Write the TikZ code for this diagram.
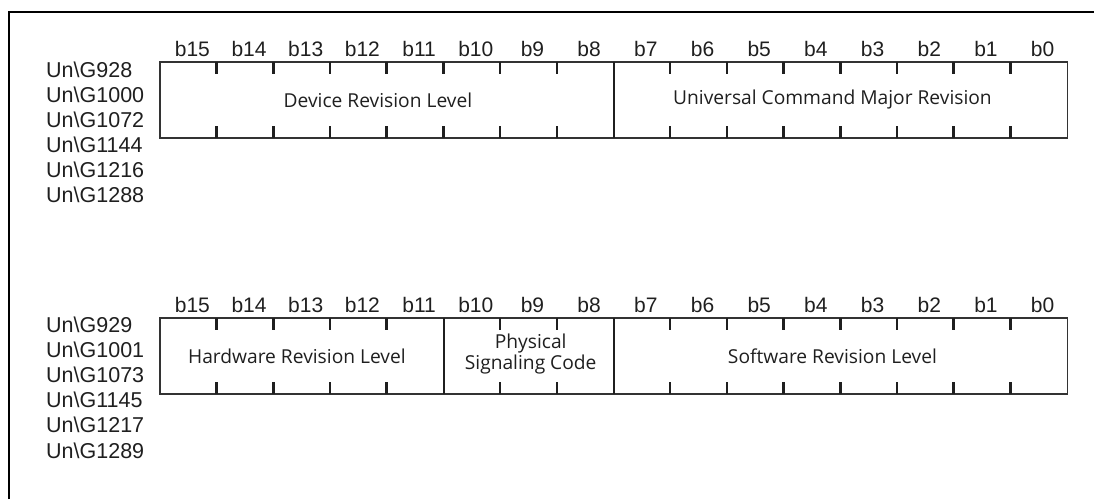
\documentclass[tikz,border=0pt]{standalone}
\usepackage{fontspec}
\setmainfont{Liberation Sans}
\newfontfamily\fieldfont{Open Sans}
\begin{document}
\begin{tikzpicture}[x=1pt,y=-1pt,
  ink/.style={color=black!88},
  bitlabel/.style={ink,font=\fontsize{21}{21}\selectfont,inner sep=0pt,anchor=base},
  addrlabel/.style={ink,font=\fontsize{21.5}{25}\selectfont,inner sep=0pt,anchor=base west},
  field/.style={inner sep=0pt,anchor=north west,minimum height=75.5pt},
  fieldtext/.style={ink,font=\fieldfont\fontsize{19.2}{20.5}\selectfont,inner sep=0pt,align=center},
  regbox/.style={draw=black!80,line width=1.7pt},
  divider/.style={draw=black!88,line width=2.6pt},
  tick/.style={draw=black!88,line width=2.6pt},
  frame/.style={draw=black,line width=2.5pt}]
\useasboundingbox (0,0) rectangle (1094,499);
\coordinate (fa) at (9,499);
\coordinate (fb) at (9,12);
\coordinate (fc) at (1094,12);
\draw[frame] (fa) -- (fb) -- (fc);
\def\bw{56.6875}
% ---------- register 1 ----------
\node[field,minimum width=8*\bw] (dev) at (160,62) {};
\node[field,minimum width=8*\bw] (ucm) at (160+8*\bw,62) {};
\node[fieldtext,xshift=-9pt] (devT) at (dev.center) {Device Revision Level};
\node[fieldtext,xshift=-8pt] (ucmT) at (ucm.center) {Universal Command Major Revision};
\draw[regbox] (dev.north west) rectangle (ucm.south east);
\draw[divider] (dev.north east) -- (dev.south east);
\foreach \k in {1,...,7,9,10,...,15}{
  \draw[tick] (160+\k*\bw,62) -- ++(0,12);
  \draw[tick] (160+\k*\bw,137.5) -- ++(0,-12);
}
\foreach \k in {0,...,15}{
  \pgfmathtruncatemacro{\b}{15-\k}
  \node[bitlabel] (ra\k) at (164+\k*\bw+\bw/2,56.5) {b\b};
}
\foreach \t [count=\i from 0] in {928,1000,1072,1144,1216,1288}{
  \node[addrlabel] (addrA\i) at (46,77+25*\i) {Un\textbackslash G\t};
}
% ---------- register 2 ----------
\node[field,minimum width=5*\bw] (hw) at (160,318) {};
\node[field,minimum width=3*\bw] (psc) at (160+5*\bw,318) {};
\node[field,minimum width=8*\bw] (sw) at (160+8*\bw,318) {};
\node[fieldtext,xshift=-5pt] (hwT) at (hw.center) {Hardware Revision Level};
\node[fieldtext,xshift=2pt,yshift=2pt] (pscT) at (psc.center) {Physical\\Signaling Code};
\node[fieldtext,xshift=-8pt] (swT) at (sw.center) {Software Revision Level};
\draw[regbox] (hw.north west) rectangle (sw.south east);
\draw[divider] (hw.north east) -- (hw.south east);
\draw[divider] (psc.north east) -- (psc.south east);
\foreach \k in {1,...,4,6,7,9,10,...,15}{
  \draw[tick] (160+\k*\bw,318) -- ++(0,12);
  \draw[tick] (160+\k*\bw,393.5) -- ++(0,-12);
}
\foreach \k in {0,...,15}{
  \pgfmathtruncatemacro{\b}{15-\k}
  \node[bitlabel] (rb\k) at (164+\k*\bw+\bw/2,312) {b\b};
}
\foreach \t [count=\i from 0] in {929,1001,1073,1145,1217,1289}{
  \node[addrlabel] (addrB\i) at (46,332+25.2*\i) {Un\textbackslash G\t};
}
\end{tikzpicture}
\end{document}
